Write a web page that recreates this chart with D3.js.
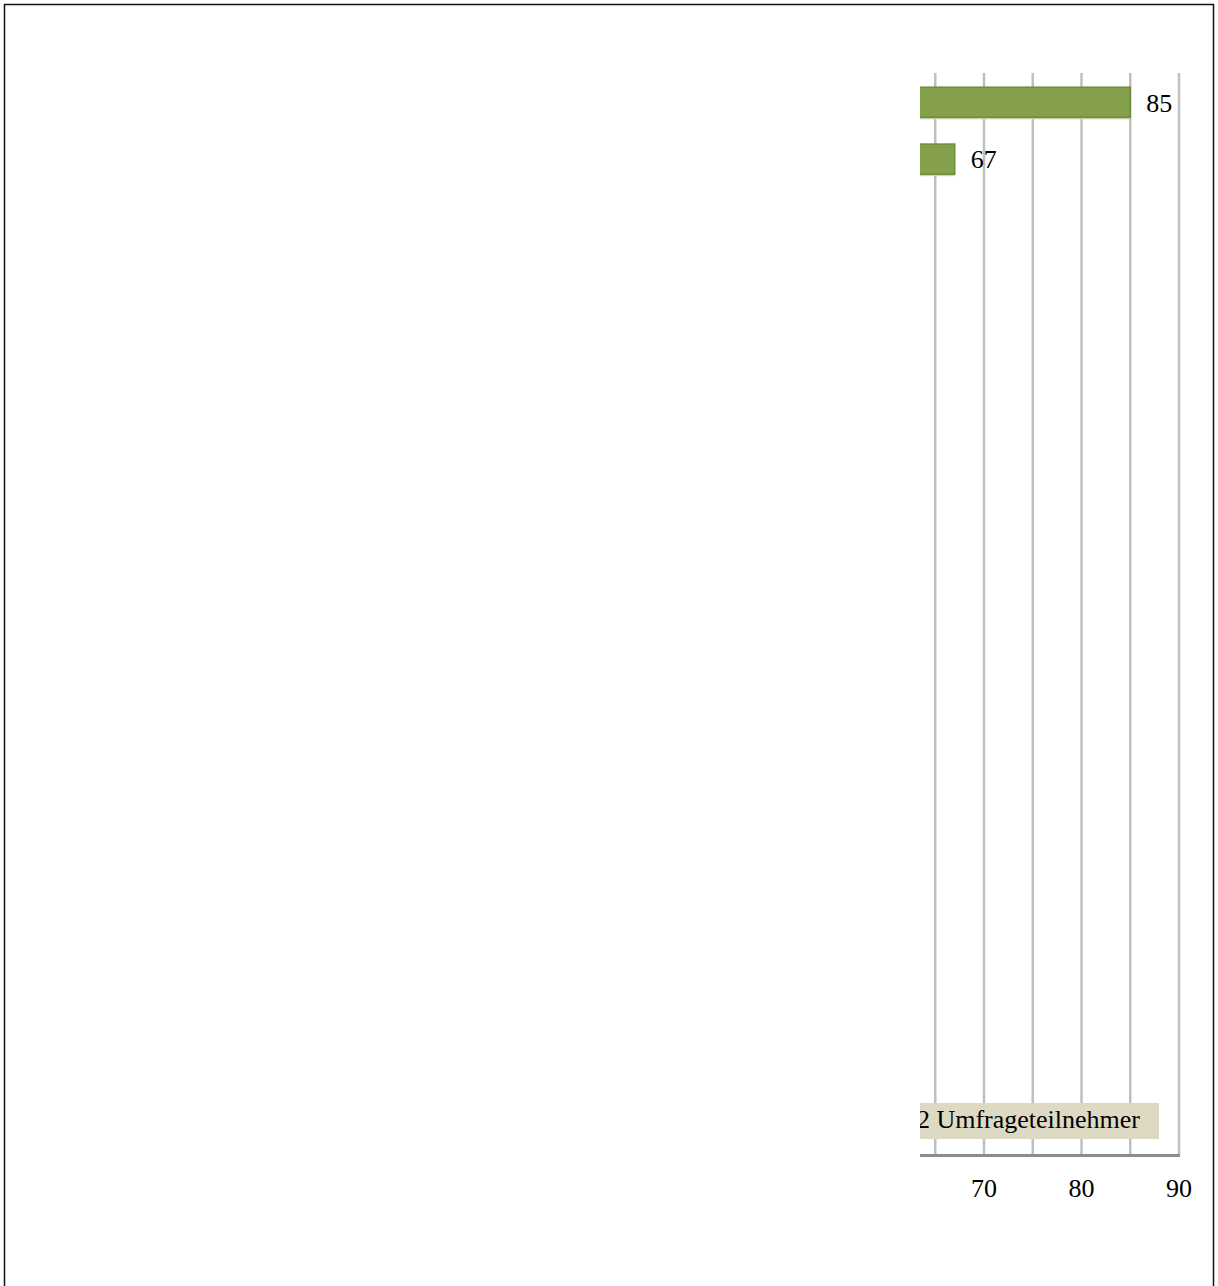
<!DOCTYPE html>
<html>
<head>
<meta charset="utf-8">
<script src="https://cdn.jsdelivr.net/npm/d3@7"></script>
<style>
  body { margin: 0; background: #fff; }
  svg { display: block; font-family: "Liberation Serif", "Times New Roman", serif; }
</style>
</head>
<body>
<div id="chart"></div>
<script>
(function () {
    'use strict';

    // values (only the top two bars reach into the visible area)
    var categories = ['A', 'B'];
    var values = [85, 67];
    var tickLabels = [70, 80, 90];
    var gridValues = [65, 70, 75, 80, 85, 90];
    var noteText = '2 Umfrageteilnehmer';

    var w = 1218,
        h = 1286;
    var slots = 19;                       // category rows in the plot

    var svg = d3.select('#chart').append('svg')
        .attr('width', w)
        .attr('height', h);

    // outer frame
    svg.append('path')
        .attr('d', 'M4.5,1300 V4.5 H1213.5 V1300')
        .attr('fill', 'none')
        .attr('stroke', '#111')
        .attr('stroke-width', 1.5);

    var x = d3.scaleLinear().domain([70, 90]).range([984, 1179]);
    var y = d3.scaleBand()
        .domain(d3.range(slots))
        .range([73, 1155])
        .paddingInner(0.47)
        .paddingOuter(0.25);

    svg.append('clipPath').attr('id', 'clip')
        .append('rect')
        .attr('x', 920).attr('y', 0)
        .attr('width', w - 920).attr('height', h);

    var g = svg.append('g').attr('clip-path', 'url(#clip)');

    // gridlines
    g.selectAll('.grid')
        .data(gridValues)
        .enter().append('line')
        .attr('class', 'grid')
        .attr('x1', function (d) { return x(d); })
        .attr('x2', function (d) { return x(d); })
        .attr('y1', 73)
        .attr('y2', 1155)
        .attr('stroke', '#bfbfbf')
        .attr('stroke-width', 2.5);

    // bar shadow, then bars
    g.selectAll('.shadow')
        .data(values)
        .enter().append('rect')
        .attr('class', 'shadow')
        .attr('x', x(0))
        .attr('y', function (d, i) { return y(i) + 2; })
        .attr('width', function (d) { return x(d) - x(0); })
        .attr('height', y.bandwidth())
        .attr('fill', '#cfd9b8');

    g.selectAll('.bar')
        .data(values)
        .enter().append('rect')
        .attr('class', 'bar')
        .attr('x', x(0))
        .attr('y', function (d, i) { return y(i); })
        .attr('width', function (d) { return x(d) - x(0); })
        .attr('height', y.bandwidth())
        .attr('fill', '#84a04a')
        .attr('stroke', '#6f8b3c')
        .attr('stroke-width', 1.5);

    g.selectAll('.val')
        .data(values)
        .enter().append('text')
        .attr('class', 'val')
        .attr('x', function (d) { return x(d) + 16; })
        .attr('y', function (d, i) { return y(i) + y.bandwidth() / 2; })
        .attr('dy', '0.36em')
        .style('font-size', '26px')
        .attr('fill', '#000')
        .text(function (d) { return d; });

    // axis line
    g.append('line')
        .attr('x1', 900).attr('x2', x(90) + 1)
        .attr('y1', 1155.5).attr('y2', 1155.5)
        .attr('stroke', '#8c8c8c')
        .attr('stroke-width', 3);

    // tick labels
    svg.selectAll('.tick-label')
        .data(tickLabels)
        .enter().append('text')
        .attr('class', 'tick-label')
        .attr('x', function (d) { return x(d); })
        .attr('y', 1197)
        .attr('text-anchor', 'middle')
        .style('font-size', '26px')
        .text(function (d) { return d; });

    // note box
    g.append('rect')
        .attr('x', 900).attr('y', 1103)
        .attr('width', 259).attr('height', 36)
        .attr('fill', '#ddd9c3');

    g.append('text')
        .attr('x', 1140)
        .attr('y', 1128)
        .attr('text-anchor', 'end')
        .style('font-size', '26px')
        .text(noteText);
})();
</script>
</body>
</html>
